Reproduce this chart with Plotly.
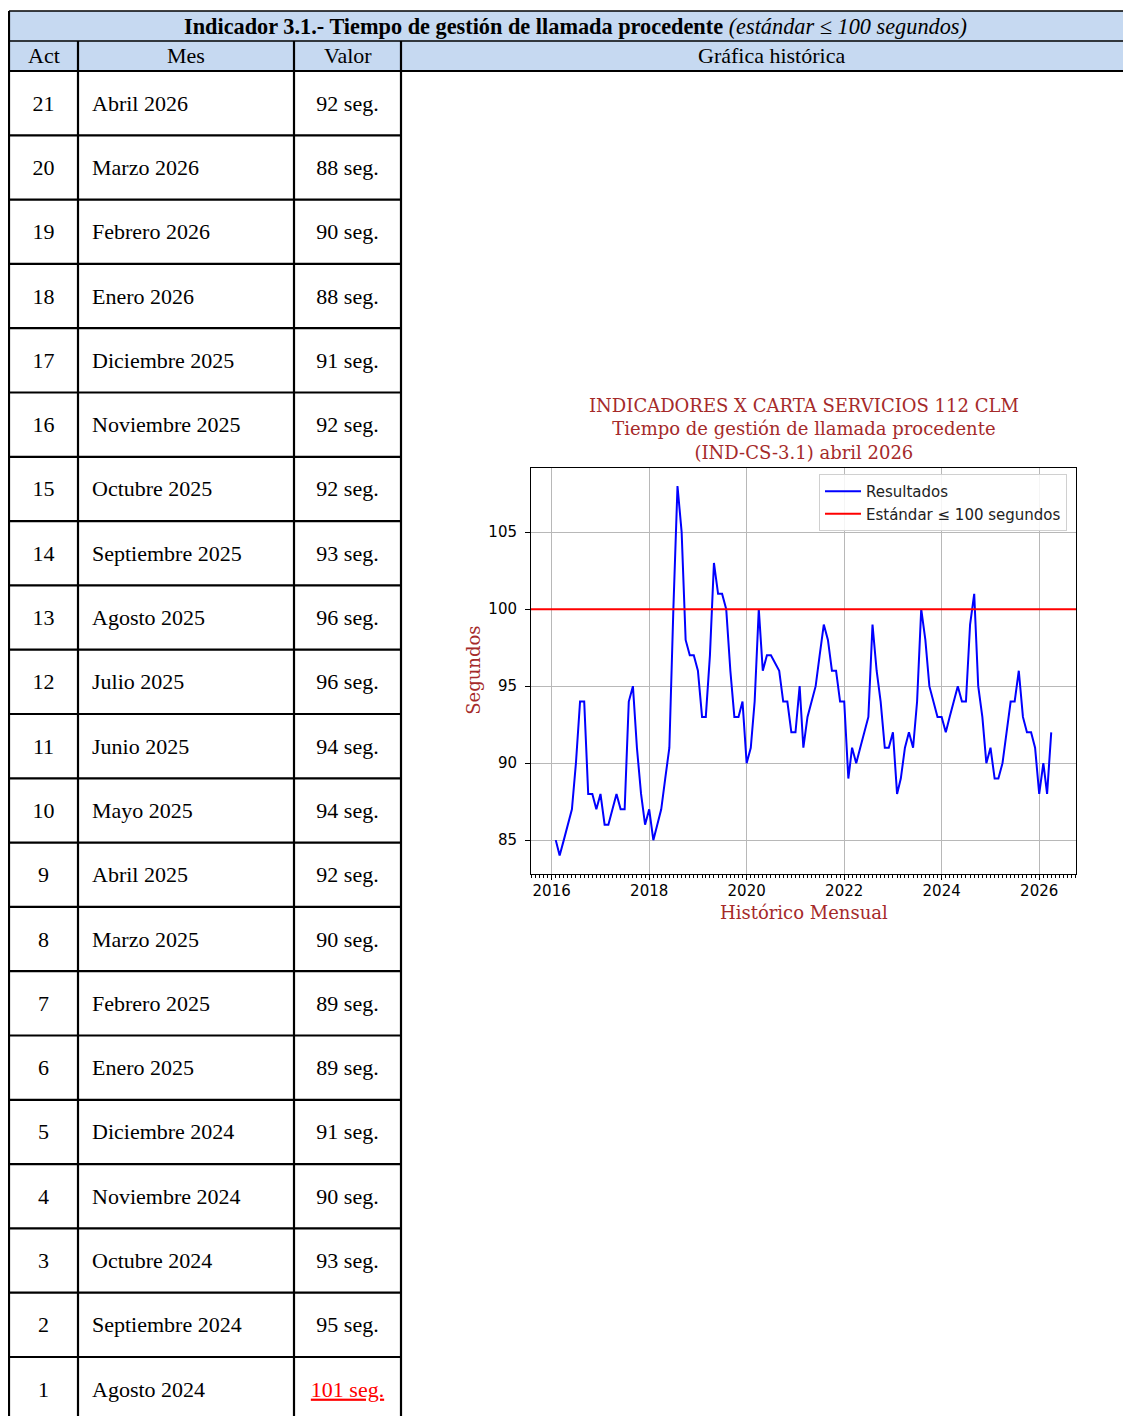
import pandas as pd
import plotly.graph_objects as go

# ------------------------------------------------------------------ data
ACT = list(range(21, 0, -1))
MES = ["Abril 2026", "Marzo 2026", "Febrero 2026", "Enero 2026",
       "Diciembre 2025", "Noviembre 2025", "Octubre 2025", "Septiembre 2025",
       "Agosto 2025", "Julio 2025", "Junio 2025", "Mayo 2025", "Abril 2025",
       "Marzo 2025", "Febrero 2025", "Enero 2025", "Diciembre 2024",
       "Noviembre 2024", "Octubre 2024", "Septiembre 2024", "Agosto 2024"]
VALOR = [92, 88, 90, 88, 91, 92, 92, 93, 96, 96, 94, 94, 92, 90, 89, 89,
         91, 90, 93, 95, 101]
UNIDAD = "seg."
ESTANDAR = 100

SERIE_INICIO = "2016-02-01"
SERIE = [85, 84, 85, 86, 87, 90, 94, 94, 88, 88, 87,
         88, 86, 86, 87, 88, 87, 87, 94, 95, 91, 88, 86,
         87, 85, 86, 87, 89, 91, 100, 108, 105, 98, 97, 97,
         96, 93, 93, 97, 103, 101, 101, 100, 96, 93, 93, 94,
         90, 91, 94, 100, 96, 97, 97, 96.5, 96, 94, 94, 92,
         92, 95, 91, 93, 94, 95, 97, 99, 98, 96, 96, 94,
         94, 89, 91, 90, 91, 92, 93, 99, 96, 94, 91, 91,
         92, 88, 89, 91, 92, 91, 94, 100, 98, 95, 94, 93,
         93, 92, 93, 94, 95, 94, 94, 99, 101, 95, 93, 90,
         91, 89, 89, 90, 92, 94, 94, 96, 93, 92, 92, 91,
         88, 90, 88, 92]

TITULO_TABLA = "<b>Indicador 3.1.- Tiempo de gestión de llamada procedente</b> <i>(estándar ≤ 100 segundos)</i>"
CABECERAS = ["Act", "Mes", "Valor", "Gráfica histórica"]
TITULO_GRAFICO = ("INDICADORES X CARTA SERVICIOS 112 CLM<br>"
                  "Tiempo de gestión de llamada procedente<br>"
                  "(IND-CS-3.1) abril 2026")
EJE_Y = "Segundos"
EJE_X = "Histórico Mensual"
LEYENDA = ["Resultados", "Estándar ≤ 100 segundos"]

# ------------------------------------------------------------------ layout constants (page px)
W, H = 1131, 1416
OFF = 8                      # default body margin of the html page
FW, FH = W - OFF, H - OFF    # figure fills the rest of the viewport exactly
COL_X = [9, 78, 294, 401]
RIGHT_X = 1130
TITLE_TOP, HEADER_TOP, BODY_TOP = 11, 41, 71
ROW_H = 64.3
TEXT_SHIFT = 2 / ROW_H
PLOT_L, PLOT_R, PLOT_T, PLOT_B = 531, 1076, 467.5, 874
HEAD_FILL = "#c6d9f1"
SERIF_T = "Liberation Serif"
DARKRED = "#a52a2a"


def fx(px):
    return (px - OFF) / FW


def fy(py):
    return 1 - (py - OFF) / FH


fig = go.Figure()

# ------------------------------------------------------------------ table body (x2 / y2 axes)
rows_y = [i + 0.5 + TEXT_SHIFT for i in range(len(ACT))]
fig.add_trace(go.Scatter(
    x=[(COL_X[0] + COL_X[1]) / 2] * len(ACT), y=rows_y, text=[str(a) for a in ACT],
    mode="text", textposition="middle center",
    textfont=dict(family=SERIF_T, size=22, color="black"),
    xaxis="x2", yaxis="y2", showlegend=False, hoverinfo="skip"))
fig.add_trace(go.Scatter(
    x=[COL_X[1] + 14] * len(MES), y=rows_y, text=MES,
    mode="text", textposition="middle right",
    textfont=dict(family=SERIF_T, size=22, color="black"),
    xaxis="x2", yaxis="y2", showlegend=False, hoverinfo="skip"))
val_text = [(f"<u>{v} {UNIDAD}</u>" if v > ESTANDAR else f"{v} {UNIDAD}") for v in VALOR]
val_col = [("#ff0000" if v > ESTANDAR else "black") for v in VALOR]
fig.add_trace(go.Scatter(
    x=[(COL_X[2] + COL_X[3]) / 2] * len(VALOR), y=rows_y, text=val_text,
    mode="text", textposition="middle center",
    textfont=dict(family=SERIF_T, size=22, color=val_col),
    xaxis="x2", yaxis="y2", showlegend=False, hoverinfo="skip"))

# ------------------------------------------------------------------ chart
fechas = pd.date_range(SERIE_INICIO, periods=len(SERIE), freq="MS")
fig.add_trace(go.Scatter(x=fechas, y=SERIE, mode="lines", name=LEYENDA[0],
                         line=dict(color="#0000ff", width=2), hoverinfo="skip"))
fig.add_trace(go.Scatter(x=[None], y=[None], mode="lines", name=LEYENDA[1],
                         line=dict(color="#ff0000", width=2), hoverinfo="skip"))

span = fechas[-1] - fechas[0]
x_range = [fechas[0] - span * 0.05, fechas[-1] + span * 0.05]
ymin, ymax = min(SERIE), max(SERIE)
y_range = [ymin - (ymax - ymin) * 0.05, ymax + (ymax - ymin) * 0.05]

shapes = []
shapes.append(dict(type="line", xref="x domain", x0=0, x1=1, yref="y", y0=ESTANDAR, y1=ESTANDAR,
                   line=dict(color="#ff0000", width=2), layer="above"))
# header fills (run to the page edge)
for top, bottom in [(TITLE_TOP, HEADER_TOP), (HEADER_TOP, BODY_TOP)]:
    shapes.append(dict(type="rect", xref="paper", yref="paper", x0=fx(COL_X[0]), x1=1.0,
                       y0=fy(bottom), y1=fy(top), fillcolor=HEAD_FILL, line=dict(width=0),
                       layer="below"))
    shapes.append(dict(type="line", xref="paper", yref="paper", x0=fx(COL_X[0]), x1=1.0,
                       y0=fy(top), y1=fy(top), line=dict(color="black", width=1.5)))
shapes.append(dict(type="line", xref="paper", yref="paper", x0=fx(COL_X[0]), x1=1.0,
                   y0=fy(BODY_TOP), y1=fy(BODY_TOP), line=dict(color="black", width=2.2)))
for cx in COL_X:
    top = TITLE_TOP if cx == COL_X[0] else HEADER_TOP
    shapes.append(dict(type="line", xref="paper", yref="paper", x0=fx(cx), x1=fx(cx),
                       y0=fy(top), y1=0, line=dict(color="black", width=2.2)))
shapes.append(dict(type="line", xref="paper", yref="paper", x0=fx(RIGHT_X), x1=fx(RIGHT_X),
                   y0=fy(TITLE_TOP), y1=0, line=dict(color="black", width=1.5)))
for k in range(1, len(ACT)):
    shapes.append(dict(type="line", xref="paper", yref="y2", x0=fx(COL_X[0]), x1=fx(COL_X[3]),
                       y0=k, y1=k, line=dict(color="black", width=2.2)))

annotations = []
annotations.append(dict(text=TITULO_TABLA, x=fx(575.5), y=fy((TITLE_TOP + HEADER_TOP) / 2),
                        xref="paper", yref="paper", showarrow=False, xanchor="center", yanchor="middle",
                        font=dict(family=SERIF_T, size=22.3, color="black")))
for i, name in enumerate(CABECERAS):
    x_left = COL_X[i]
    x_right = COL_X[i + 1] if i + 1 < len(COL_X) else 1141
    annotations.append(dict(text=name, x=fx((x_left + x_right) / 2), y=fy((HEADER_TOP + BODY_TOP) / 2),
                            xref="paper", yref="paper", showarrow=False, xanchor="center",
                            yanchor="middle", font=dict(family=SERIF_T, size=22, color="black")))
annotations.append(dict(text=TITULO_GRAFICO, x=fx((PLOT_L + PLOT_R) / 2), y=fy(429.5),
                        xref="paper", yref="paper", showarrow=False, xanchor="center", yanchor="middle",
                        font=dict(family="DejaVu Serif", size=18, color=DARKRED)))
annotations.append(dict(text=EJE_Y, x=fx(474), y=fy((PLOT_T + PLOT_B) / 2), textangle=-90,
                        xref="paper", yref="paper", showarrow=False, xanchor="center", yanchor="middle",
                        font=dict(family="DejaVu Serif", size=18, color=DARKRED)))
annotations.append(dict(text=EJE_X, x=fx((PLOT_L + PLOT_R) / 2), y=fy(912),
                        xref="paper", yref="paper", showarrow=False, xanchor="center", yanchor="middle",
                        font=dict(family="DejaVu Serif", size=18, color=DARKRED)))

tickfont = dict(family="DejaVu Sans", size=15, color="black")
fig.update_layout(
    width=FW, height=FH, margin=dict(l=0, r=0, t=0, b=0),
    paper_bgcolor="white", plot_bgcolor="white",
    showlegend=True,
    legend=dict(x=fx(1067), y=fy(474), xanchor="right", yanchor="top",
                bgcolor="rgba(255,255,255,0.85)", bordercolor="#d0d0d0", borderwidth=1,
                font=dict(family="DejaVu Sans", size=15, color="#222"), tracegroupgap=0,
                itemwidth=36),
    xaxis=dict(domain=[fx(PLOT_L), fx(PLOT_R)], type="date", range=x_range,
               tick0="2016-01-01", dtick="M24", tickformat="%Y",
               ticks="outside", ticklen=5, tickcolor="black", tickfont=tickfont,
               ticklabelstandoff=-2,
               showgrid=True, gridcolor="#b8b8b8", gridwidth=1,
               showline=True, linecolor="black", linewidth=1, mirror=True, zeroline=False,
               minor=dict(dtick="M1", ticks="outside", ticklen=2.5, tickcolor="black", showgrid=False),
               anchor="y"),
    yaxis=dict(domain=[fy(PLOT_B), fy(PLOT_T)], range=y_range, dtick=5, tick0=85,
               ticks="outside", ticklen=5, tickcolor="black", tickfont=tickfont,
               ticklabelstandoff=5,
               showgrid=True, gridcolor="#b8b8b8", gridwidth=1,
               showline=True, linecolor="black", linewidth=1, mirror=True, zeroline=False,
               anchor="x"),
    xaxis2=dict(domain=[0, fx(COL_X[3])], range=[OFF, COL_X[3]], visible=False, anchor="y2",
                fixedrange=True),
    yaxis2=dict(domain=[0, fy(BODY_TOP)], range=[(H - BODY_TOP) / ROW_H, 0], visible=False,
                anchor="x2", fixedrange=True),
    shapes=shapes, annotations=annotations,
)

fig.write_html("out.html", config=dict(displayModeBar=False))
